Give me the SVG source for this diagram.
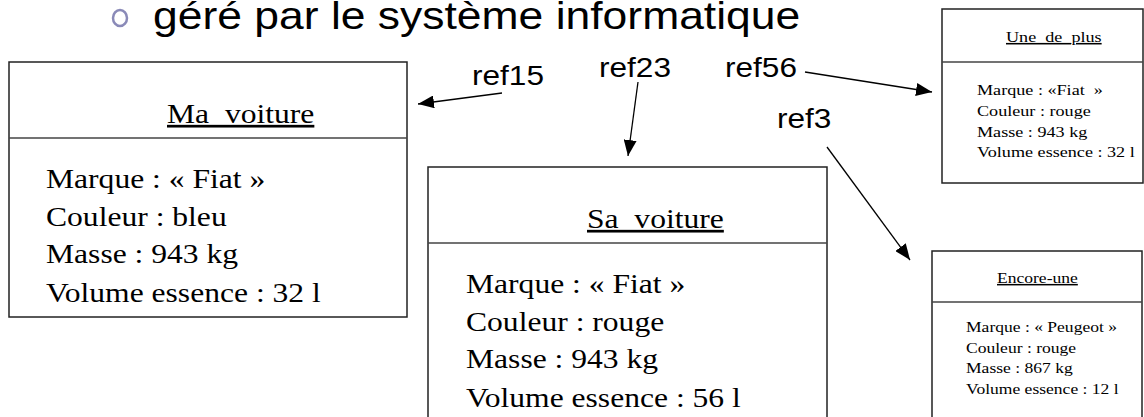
<svg xmlns="http://www.w3.org/2000/svg" width="1144" height="417" viewBox="0 0 1144 417">
<style>
.box{fill:#fff;stroke:#222;stroke-width:1.5}
.div{stroke:#444;stroke-width:1.5}
.big{font-family:"Liberation Serif","Times New Roman",serif;font-size:27px;fill:#000}
.small{font-family:"Liberation Serif","Times New Roman",serif;font-size:15px;fill:#000}
.ul{text-decoration:underline}
.lbl{font-family:"Liberation Sans",Arial,sans-serif;font-size:27px;fill:#000}
.head{font-family:"Liberation Sans",Arial,sans-serif;font-size:38px;fill:#000}
.conn{stroke:#000;stroke-width:1.3;fill:none;marker-end:url(#ah)}
</style>
<defs>
<marker id="ah" viewBox="0 0 16 13" refX="16" refY="6.5" markerWidth="16" markerHeight="13" markerUnits="userSpaceOnUse" orient="auto">
<path d="M0,0 L16,6.5 L0,13 z" fill="#000"/>
</marker>
</defs>
<rect width="1144" height="417" fill="#fff"/>
<g id="heading">
<ellipse cx="120" cy="18" rx="7" ry="8" fill="none" stroke="#8a8ab8" stroke-width="2.5"/>
<text class="head" transform="translate(153,29) scale(1.17,1)">géré par le système informatique</text>
</g>
<g id="ma_voiture">
<rect class="box" x="9" y="62" width="398" height="255"/>
<line class="div" x1="9" y1="138" x2="407" y2="138"/>
<text class="big ul" transform="translate(167,123) scale(1.17,1)">Ma_voiture</text>
<text class="big" transform="translate(46,188) scale(1.17,1)">Marque : « Fiat »</text>
<text class="big" transform="translate(46,226) scale(1.17,1)">Couleur : bleu</text>
<text class="big" transform="translate(46,263) scale(1.17,1)">Masse : 943 kg</text>
<text class="big" transform="translate(46,302) scale(1.17,1)">Volume essence : 32 l</text>
</g>
<g id="sa_voiture">
<rect class="box" x="428" y="167" width="399" height="270"/>
<line class="div" x1="428" y1="243" x2="827" y2="243"/>
<text class="big ul" transform="translate(587,228) scale(1.17,1)">Sa_voiture</text>
<text class="big" transform="translate(466,293) scale(1.17,1)">Marque : « Fiat »</text>
<text class="big" transform="translate(466,331) scale(1.17,1)">Couleur : rouge</text>
<text class="big" transform="translate(466,368) scale(1.17,1)">Masse : 943 kg</text>
<text class="big" transform="translate(466,407) scale(1.17,1)">Volume essence : 56 l</text>
</g>
<g id="une_de_plus">
<rect class="box" x="942" y="9" width="201" height="174"/>
<line class="div" x1="942" y1="62" x2="1143" y2="62"/>
<text class="small ul" style="font-size:15.5px" transform="translate(1006,42) scale(1.17,1)">Une_de_plus</text>
<text class="small" style="font-size:15.5px" transform="translate(977,95) scale(1.17,1)">Marque : «Fiat&#160; »</text>
<text class="small" style="font-size:15.5px" transform="translate(977,116) scale(1.17,1)">Couleur : rouge</text>
<text class="small" style="font-size:15.5px" transform="translate(977,137) scale(1.17,1)">Masse : 943 kg</text>
<text class="small" style="font-size:15.5px" transform="translate(977,157) scale(1.17,1)">Volume essence : 32 l</text>
</g>
<g id="encore_une">
<rect class="box" x="932" y="251" width="210" height="190"/>
<line class="div" x1="932" y1="302" x2="1142" y2="302"/>
<text class="small ul" transform="translate(997,283) scale(1.17,1)">Encore-une</text>
<text class="small" transform="translate(966,332) scale(1.17,1)">Marque : « Peugeot »</text>
<text class="small" transform="translate(966,353) scale(1.17,1)">Couleur : rouge</text>
<text class="small" transform="translate(966,373) scale(1.17,1)">Masse : 867 kg</text>
<text class="small" transform="translate(966,394) scale(1.17,1)">Volume essence : 12 l</text>
</g>
<g id="connectors">
<line class="conn" x1="502" y1="93" x2="418" y2="104"/>
<line class="conn" x1="638" y1="82" x2="628" y2="156"/>
<line class="conn" x1="805" y1="72" x2="932" y2="92"/>
<line class="conn" x1="827" y1="147" x2="910" y2="260"/>
<text class="lbl" transform="translate(472,85) scale(1.17,1)">ref15</text>
<text class="lbl" transform="translate(599,77) scale(1.17,1)">ref23</text>
<text class="lbl" transform="translate(725,77) scale(1.17,1)">ref56</text>
<text class="lbl" transform="translate(777,128) scale(1.17,1)">ref3</text>
</g>
</svg>
